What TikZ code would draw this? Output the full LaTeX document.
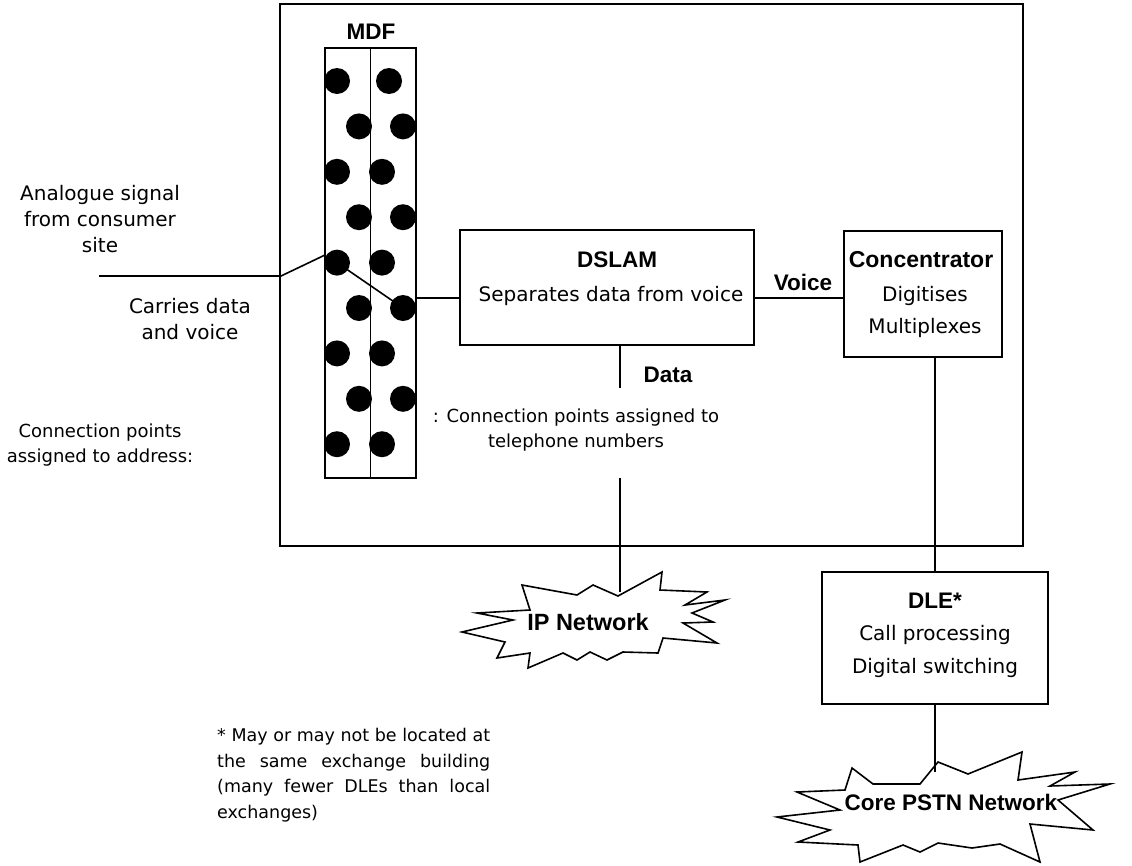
\documentclass[tikz,border=0pt]{standalone}
\usepackage{fontspec}
\setmainfont{DejaVu Sans}
\newfontfamily\boldfam{Liberation Sans}
\begin{document}
\begin{tikzpicture}[x=1pt,y=-1pt,
  line/.style={line width=1.6pt,line join=miter},
  box/.style={draw,line width=1.6pt,inner sep=0pt,anchor=center},
  txt/.style={inner sep=0pt,font=\fontsize{20}{26}\selectfont,align=center},
  stxt/.style={inner sep=0pt,font=\fontsize{18}{25}\selectfont,align=center},
  btxt/.style={inner sep=0pt,font=\boldfam\bfseries\fontsize{22.5}{26}\selectfont,align=center},
  dot/.style={circle,fill=black,minimum size=26pt,inner sep=0pt}]
\useasboundingbox (0,0) rectangle (1132,865);
% boxes
\node[box,minimum width=743pt,minimum height=542pt] (outer) at (651.5,275) {};
\node[box,minimum width=91pt,minimum height=430pt] (mdf) at (370.5,263) {};
\draw[line] (mdf.north) -- (mdf.south);
\node[btxt] (mdflab) at (371,32) {MDF};
% wiring under the dots
\coordinate (in) at (99,276);
\coordinate (jn) at (281,276);
\coordinate (mdfin) at (325,255);
\draw[line] (in) -- (jn) -- (mdfin);
% dots
\foreach \i in {1,...,9}{
  \pgfmathsetmacro{\yy}{81+45.4*(\i-1)}
  \ifodd\i
    \node[dot] (L\i) at (337,\yy) {};
    \ifnum\i=1 \node[dot] (R\i) at (389,\yy) {};\else \node[dot] (R\i) at (382,\yy) {};\fi
  \else
    \node[dot] (L\i) at (359,\yy) {};
    \node[dot] (R\i) at (403,\yy) {};
  \fi
}
\draw[line] (L5.center) -- (R6.center);
% DSLAM
\node[box,minimum width=294pt,minimum height=115pt] (dslam) at (607,287.5) {};
\node[btxt] (dslamlab) at (617,260) {DSLAM};
\node[txt] (dslamtxt) at (611,296) {Separates data from voice};
\coordinate (mdfout) at (416,298);
\draw[line] (mdfout) -- (dslam.west |- mdfout);
% Concentrator
\node[box,minimum width=158pt,minimum height=126pt] (conc) at (923,294) {};
\node[btxt,font=\boldfam\bfseries\fontsize{23}{26}\selectfont] (conclab) at (921,260) {Concentrator};
\node[txt,font=\fontsize{20}{32}\selectfont] (conctxt) at (925,312) {Digitises\\Multiplexes};
\draw[line] (dslam.east |- mdfout) -- (conc.west |- mdfout);
\node[btxt] (voice) at (803,282) {Voice};
% Data
\coordinate (dataend) at (620,388);
\draw[line] (dslam.south -| dataend) -- (dataend);
\node[btxt] (data) at (668,375) {Data};
\node[stxt] (tel) at (576,430) {: Connection points assigned to\\telephone numbers};
\node[stxt] (addr) at (100,445) {Connection points\\assigned to address:};
\node[txt] (analog) at (100,219) {Analogue signal\\from consumer\\site};
\node[txt] (carries) at (190,319) {Carries data\\and voice};
% IP network star
\draw[line] (522,585) -- (577,595) -- (593,585) -- (618,596) -- (662,572) -- (660,590)
  -- (707,592) -- (685,605) -- (725,600) -- (692,613) -- (713,622) -- (683,623)
  -- (717,643) -- (663,638) -- (658,653) -- (623,652) -- (607,660) -- (590,652)
  -- (577,660) -- (563,653) -- (528,668) -- (530,653) -- (497,658) -- (505,642)
  -- (462,632) -- (513,620) -- (477,613) -- (530,610) -- cycle;
\node[btxt,font=\boldfam\bfseries\fontsize{23.5}{26}\selectfont] (ip) at (588,622) {IP Network};
\coordinate (iptop) at (620,592);
\draw[line] (620,478) coordinate (telend) -- (iptop);
% DLE
\node[box,minimum width=226pt,minimum height=132pt] (dle) at (935,638) {};
\node[btxt] (dlelab) at (935,601) {DLE*};
\node[txt,font=\fontsize{20}{33}\selectfont] (dletxt) at (935,651.5) {Call processing\\Digital switching};
\draw[line] (conc.south -| dle.north) -- (dle.north);
% Core star
\draw[line] (797,792) -- (845,790) -- (852,768) -- (873,784) -- (920,784) -- (938,762)
  -- (968,774) -- (1022,752) -- (1018,780) -- (1075,772) -- (1050,786) -- (1110,784)
  -- (1058,800) -- (1093,830) -- (1030,824) -- (1040,862) -- (1000,844) -- (972,848)
  -- (938,843) -- (920,852) -- (903,845) -- (860,862) -- (858,845) -- (798,842)
  -- (830,830) -- (777,817) -- (840,810) -- cycle;
\node[btxt] (core) at (951,802) {Core PSTN Network};
\coordinate (coretop) at (935,772);
\draw[line] (dle.south) -- (coretop);
% footnote
\node[inner sep=0pt,font=\fontsize{17.5}{25.6}\selectfont,align=justify,text width=273pt,anchor=north west] (foot) at (217,728)
  {* May or may not be located at\linebreak the same exchange building\linebreak (many fewer DLEs than local\linebreak exchanges)};
\end{tikzpicture}
\end{document}
